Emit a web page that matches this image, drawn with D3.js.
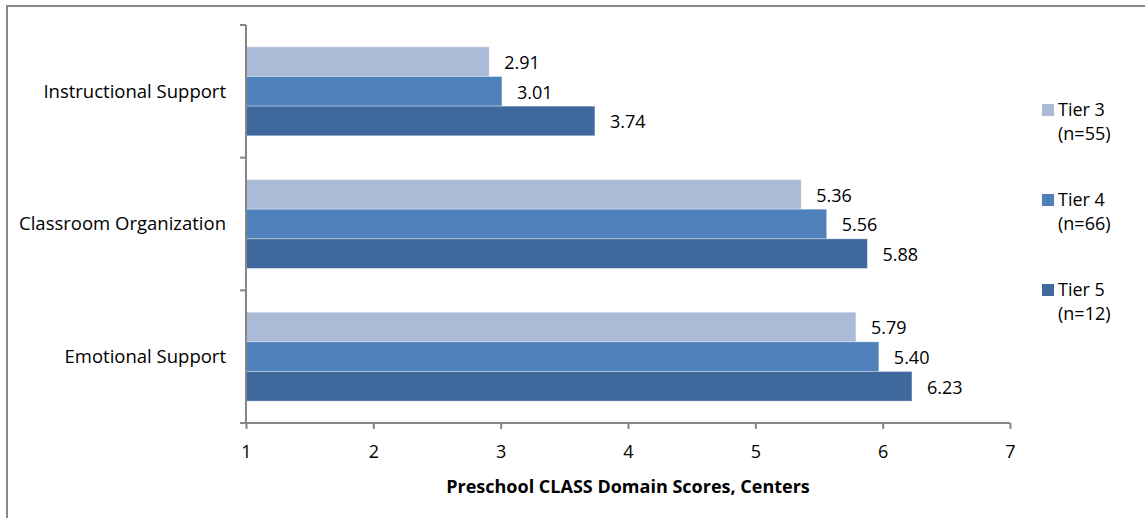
<!DOCTYPE html>
<html>
<head>
<meta charset="utf-8">
<script src="https://cdn.jsdelivr.net/npm/d3@7"></script>
<style>
  body { margin: 0; background: #fff; }
  text { font-family: "Open Sans", "Liberation Sans", sans-serif; fill: #000; }
</style>
</head>
<body>
<div id="chart"></div>
<script>
// Domains, top to bottom
const domains = ['Instructional Support', 'Classroom Organization', 'Emotional Support'];
const tiers = ['Tier 3', 'Tier 4', 'Tier 5'];
const tierN = ['(n=55)', '(n=66)', '(n=12)'];

// bar lengths as drawn, and the labels printed next to them
const tier3Values = [2.91, 5.36, 5.79];
const tier4Values = [3.01, 5.56, 5.97];
const tier5Values = [3.74, 5.88, 6.23];
const tier3Labels = ['2.91', '5.36', '5.79'];
const tier4Labels = ['3.01', '5.56', '5.40'];
const tier5Labels = ['3.74', '5.88', '6.23'];

const xTicks = [1, 2, 3, 4, 5, 6, 7];
const colours = ['#abbad7', '#4e80bc', '#3f699c'];

const seriesValues = [tier3Values, tier4Values, tier5Values];
const seriesLabels = [tier3Labels, tier4Labels, tier5Labels];

const W = 1145, H = 518;
const margin = { top: 25, left: 246, right: 135, bottom: 95 };

const svg = d3.select('#chart').append('svg')
  .attr('width', W)
  .attr('height', H);

// outer frame (only top and left visible in the crop)
svg.append('rect')
  .attr('x', 7).attr('y', 6)
  .attr('width', W + 20).attr('height', H + 20)
  .attr('fill', 'none')
  .attr('stroke', '#878787')
  .attr('stroke-width', 2);

const g = svg.append('g')
  .attr('transform', `translate(${margin.left},${margin.top})`);

const innerW = W - margin.left - margin.right;   // 764
const innerH = H - margin.top - margin.bottom;    // 398

const x = d3.scaleLinear().domain([1, 7]).range([0, innerW]);
const y = d3.scaleBand().domain(domains).range([0, innerH]).paddingInner(0.33).paddingOuter(0.165);
const ySub = d3.scaleBand().domain(tiers).range([0, y.bandwidth()]);

// build bar data
const data = [];
domains.forEach((d, i) => {
  tiers.forEach((t, j) => {
    data.push({ domain: d, tier: t, value: seriesValues[j][i], label: seriesLabels[j][i], c: colours[j] });
  });
});

g.selectAll('rect.bar')
  .data(data)
  .join('rect')
  .attr('class', 'bar')
  .attr('x', 0)
  .attr('y', d => y(d.domain) + ySub(d.tier))
  .attr('width', d => x(d.value))
  .attr('height', ySub.bandwidth())
  .attr('fill', d => d.c)
  .attr('stroke', 'rgba(255,255,255,0.35)')
  .attr('stroke-width', 1);

g.selectAll('text.val')
  .data(data)
  .join('text')
  .attr('class', 'val')
  .attr('x', d => x(d.value) + 15)
  .attr('y', d => y(d.domain) + ySub(d.tier) + ySub.bandwidth() / 2 + 1)
  .attr('dy', '0.35em')
  .style('font-size', '18px')
  .text(d => d.label);

// X axis
const xAxis = g.append('g')
  .attr('transform', `translate(0,${innerH})`)
  .call(d3.axisBottom(x).tickValues(xTicks).tickSize(6).tickPadding(16).tickFormat(d3.format('d')));
xAxis.select('.domain').attr('stroke', '#868686').attr('stroke-width', 2).attr('d', `M0,0H${innerW}`);
xAxis.selectAll('.tick line').attr('stroke', '#868686').attr('stroke-width', 2);
xAxis.selectAll('.tick text').style('font-size', '18px').attr('fill', '#000');

// Y axis: ticks between categories
const yAxis = g.append('g');
yAxis.append('line')
  .attr('x1', 0).attr('x2', 0).attr('y1', 0).attr('y2', innerH)
  .attr('stroke', '#868686').attr('stroke-width', 2);
const bounds = [0, ...domains.map(d => y(d) + y.bandwidth() + y.step() * y.paddingInner() / 2)];
yAxis.selectAll('line.tk')
  .data(bounds)
  .join('line')
  .attr('class', 'tk')
  .attr('x1', -6).attr('x2', 0)
  .attr('y1', d => d).attr('y2', d => d)
  .attr('stroke', '#868686').attr('stroke-width', 2);
yAxis.selectAll('text')
  .data(domains)
  .join('text')
  .attr('x', -20)
  .attr('y', d => y(d) + y.bandwidth() / 2)
  .attr('dy', '0.35em')
  .attr('text-anchor', 'end')
  .style('font-size', '18.5px')
  .text(d => d);

// axis title
svg.append('text')
  .attr('x', margin.left + innerW / 2)
  .attr('y', 493)
  .attr('text-anchor', 'middle')
  .style('font-size', '18px')
  .style('font-weight', '700')
  .text('Preschool CLASS Domain Scores, Centers');

// legend
const legend = svg.append('g').attr('transform', 'translate(1042,0)');
tiers.forEach((t, i) => {
  const ly = 104 + i * 90;
  legend.append('rect')
    .attr('x', 0).attr('y', ly)
    .attr('width', 12).attr('height', 12)
    .attr('fill', colours[i]);
  legend.append('text')
    .attr('x', 16).attr('y', ly + 6)
    .attr('dy', '0.35em')
    .style('font-size', '18px')
    .text(t);
  legend.append('text')
    .attr('x', 16).attr('y', ly + 30)
    .attr('dy', '0.35em')
    .style('font-size', '18px')
    .text(tierN[i]);
});
</script>
</body>
</html>
